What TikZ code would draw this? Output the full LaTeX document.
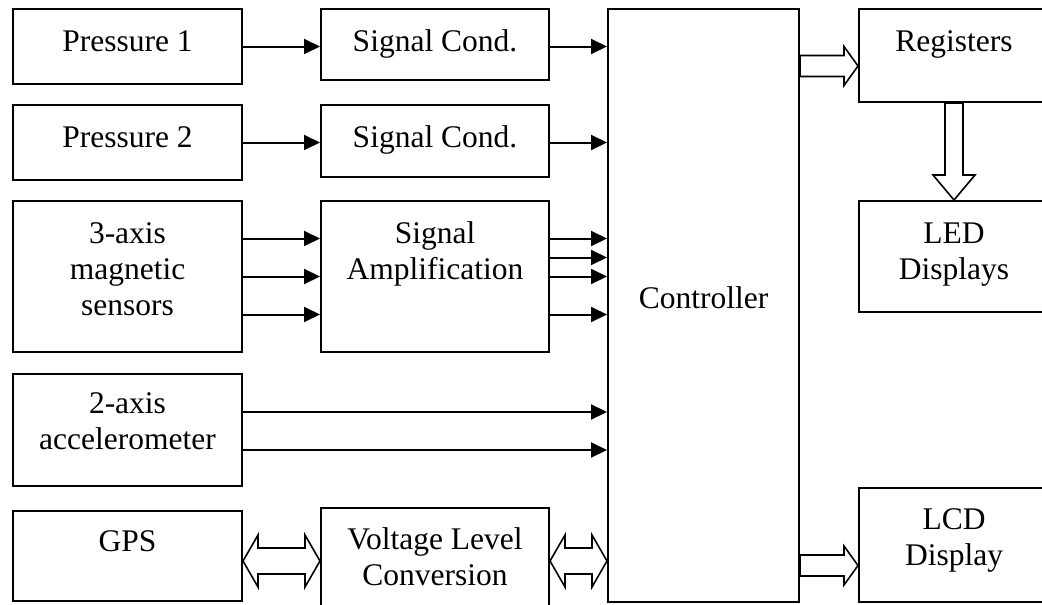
\documentclass[tikz,border=0pt]{standalone}
\usepackage{fontspec}
\setmainfont{Liberation Serif}
\usetikzlibrary{arrows.meta,positioning,calc}

\tikzset{
  blk/.style={draw, line width=2pt, inner sep=0pt, anchor=north west, align=center,
    text height=42pt, font=\fontsize{31.5}{36}\selectfont},
  link/.style={-{Triangle[length=16pt, width=15pt]}, line width=2pt},
  fat/.style={draw, line width=1.6pt, fill=white, line join=miter},
  fatright/.style={fat, to path={let \p1=(\tikztostart), \p2=(\tikztotarget) in
    (\x1,\y1+10.5pt) -- (\x2-14pt,\y1+10.5pt) -- (\x2-14pt,\y1+19.5pt) -- (\x2,\y1)
    -- (\x2-14pt,\y1-19.5pt) -- (\x2-14pt,\y1-10.5pt) -- (\x1,\y1-10.5pt) -- cycle}},
  fatboth/.style={fat, to path={let \p1=(\tikztostart), \p2=(\tikztotarget) in
    (\x1,\y1) -- (\x1+15pt,\y1+26pt) -- (\x1+15pt,\y1+13pt) -- (\x2-15pt,\y1+13pt)
    -- (\x2-15pt,\y1+26pt) -- (\x2,\y1) -- (\x2-15pt,\y1-26pt) -- (\x2-15pt,\y1-13pt)
    -- (\x1+15pt,\y1-13pt) -- (\x1+15pt,\y1-26pt) -- cycle}},
  fatdown/.style={fat, to path={let \p1=(\tikztostart), \p2=(\tikztotarget) in
    (\x1-9pt,\y1) -- (\x1-9pt,\y2+25pt) -- (\x1-21pt,\y2+25pt) -- (\x1,\y2)
    -- (\x1+21pt,\y2+25pt) -- (\x1+9pt,\y2+25pt) -- (\x1+9pt,\y1) -- cycle}}
}

\begin{document}
\begin{tikzpicture}[x=1pt, y=-1pt]
\useasboundingbox (0,0) rectangle (1042,605);
\clip (0,0) rectangle (1042,605);

% sensors
\node[blk, minimum width=229pt, text depth=33pt] (p1) at (12,8) {Pressure 1};
\node[blk, minimum width=229pt, text depth=33pt, below=19pt of p1.south west, anchor=north west] (p2) {Pressure 2};
\node[blk, minimum width=229pt, text height=114pt, text depth=37pt, below=19pt of p2.south west, anchor=north west] (mag) {3-axis\\magnetic\\sensors};
\node[blk, minimum width=229pt, text height=75pt, text depth=37pt, below=20pt of mag.south west, anchor=north west] (acc) {2-axis\\accelerometer};
\node[blk, minimum width=229pt, text height=40pt, text depth=50pt, below=23pt of acc.south west, anchor=north west] (gps) {GPS};

% conditioning
\node[blk, minimum width=228pt, text depth=29pt, right=77pt of p1.north east, anchor=north west] (sc1) {Signal Cond.};
\node[blk, minimum width=228pt, text depth=30pt, right=77pt of p2.north east, anchor=north west] (sc2) {Signal Cond.};
\node[blk, minimum width=228pt, text height=78pt, text depth=73pt, right=77pt of mag.north east, anchor=north west] (amp) {Signal\\Amplification};
\node[blk, minimum width=228pt, text height=77pt, text depth=22pt, below=154pt of amp.south west, anchor=north west] (vlc) {Voltage Level\\Conversion};

% controller and outputs
\node[blk, minimum width=191pt, text height=299pt, text depth=294pt, right=57pt of sc1.north east, anchor=north west] (ctrl) {Controller};
\node[blk, minimum width=190pt, text depth=51pt, right=58pt of ctrl.north east, anchor=north west] (reg) {Registers};
\node[blk, minimum width=190pt, text height=78pt, text depth=33pt, below=97pt of reg.south west, anchor=north west] (led) {LED\\Displays};
\node[blk, minimum width=190pt, text height=77pt, text depth=37pt, below=174pt of led.south west, anchor=north west] (lcd) {LCD\\Display};

% signal lines
\draw[link] (p1.east) -- (p1.east -| sc1.west);
\draw[link] (p1.east -| sc1.east) -- (p1.east -| ctrl.west);
\draw[link] (p2.east) -- (p2.east -| sc2.west);
\draw[link] (p2.east -| sc2.east) -- (p2.east -| ctrl.west);
\foreach \s in {38,0,-38}
  \draw[link] ([yshift=\s pt]mag.east) coordinate (m) -- (m -| amp.west);
\foreach \s in {38,19,0,-38}
  \draw[link] ([yshift=\s pt]amp.east) coordinate (a) -- (a -| ctrl.west);
\foreach \s in {18,-20}
  \draw[link] ([yshift=\s pt]acc.east) coordinate (c) -- (c -| ctrl.west);

% buses
\coordinate (regin) at ([yshift=-10.5pt]reg.west);
\coordinate (lcdin) at ([yshift=-20.5pt]lcd.west);
\coordinate (gpsout) at ([yshift=-5pt]gps.east);
\draw[fatright] (regin -| ctrl.east) to (regin);
\draw[fatdown] (reg.south) to (led.north);
\draw[fatright] (lcdin -| ctrl.east) to (lcdin);
\draw[fatboth] (gpsout) to (gpsout -| vlc.west);
\draw[fatboth] (gpsout -| vlc.east) to (gpsout -| ctrl.west);
\end{tikzpicture}
\end{document}
